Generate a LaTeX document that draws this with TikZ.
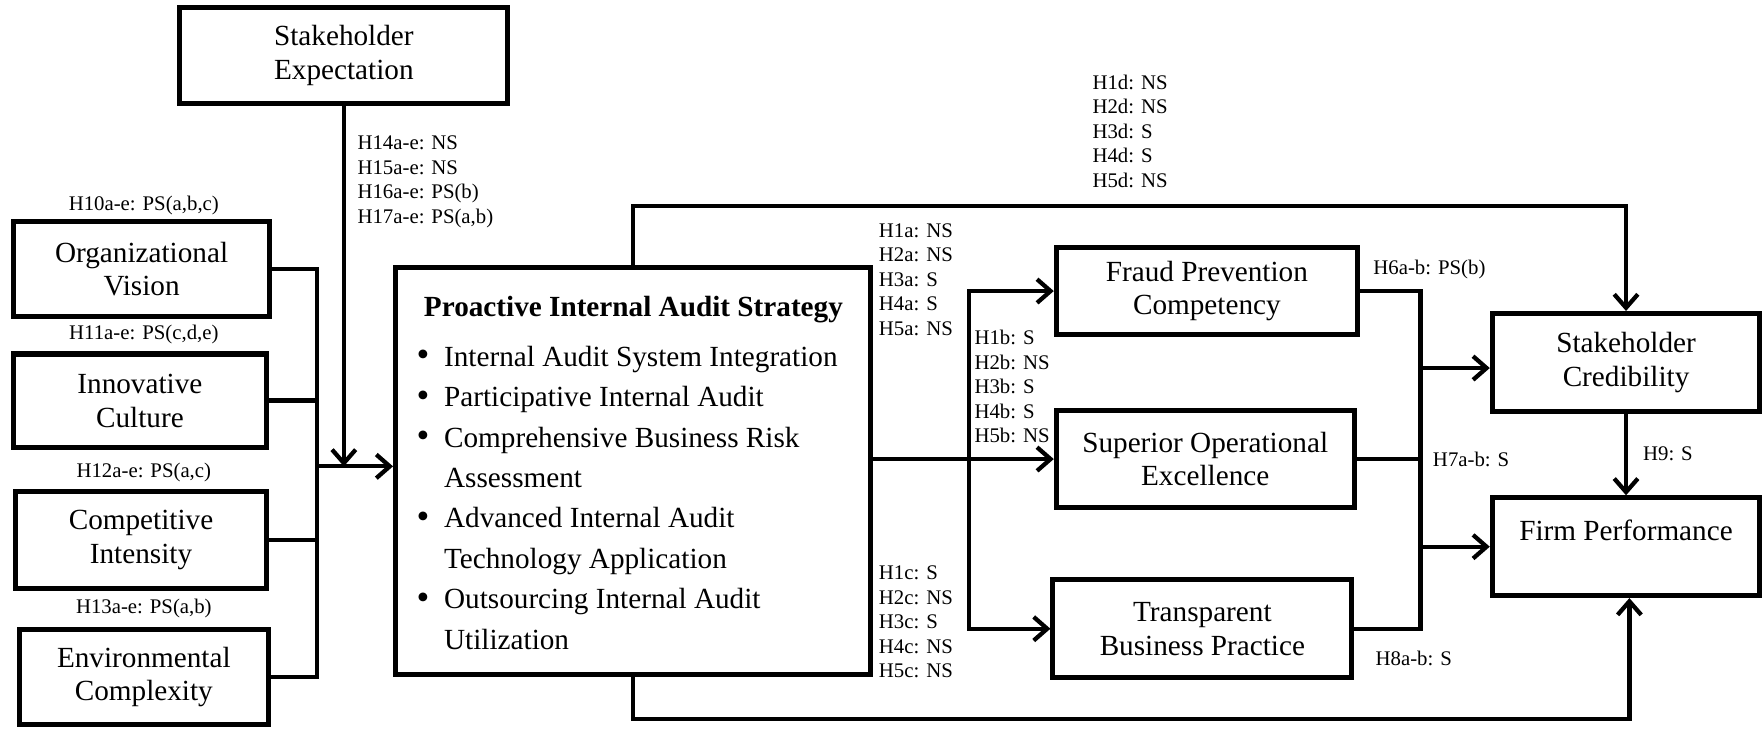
\documentclass[tikz,border=0pt]{standalone}
\usepackage{fontspec}
\setmainfont{Liberation Serif}
\usetikzlibrary{arrows.meta,calc}
\newcommand\stratitem{\makebox[24.5pt][l]{\raisebox{-0.5pt}{\scalebox{1.25}{\textbullet}}}}
\begin{document}
\begin{tikzpicture}[x=1pt,y=-1pt,
  box/.style={draw,line width=4.5pt,inner sep=0pt,align=center,
    font=\fontsize{26}{30}\selectfont},
  lab/.style={inner sep=0pt,align=left,font=\fontsize{18.5}{21.8}\selectfont},
  conn/.style={line width=3.8pt,line join=miter},
  arr/.style={conn,-{Straight Barb[length=12pt,width=21pt]}},
  dblarr/.style={conn,{Straight Barb[length=12pt,width=21pt]}-{Straight Barb[length=12pt,width=21pt]}}
]
\useasboundingbox (0,0) rectangle (1568,651);

% antecedents
\node[box,minimum width=292pt,minimum height=85pt] (se) at (306,49.5) {Stakeholder\\Expectation};
\node[box,minimum width=228pt,minimum height=85pt] (ov) at (126,239.5) {Organizational\\Vision};
\node[box,minimum width=225pt,minimum height=83pt] (ic) at (124.5,356.5) {Innovative\\Culture};
\node[box,minimum width=223pt,minimum height=87pt] (ci) at (125.5,480.5) {Competitive\\Intensity};
\node[box,minimum width=222pt,minimum height=85pt] (ec) at (128,602.5) {Environmental\\Complexity};

% central strategy box
\node[box,minimum width=423pt,minimum height=362pt] (pias) at (563.5,419) {};
\node[lab,anchor=north west,font=\fontsize{26}{36}\selectfont] (piastext) at (370.5,263.6)
  {\makebox[386pt][c]{\bfseries Proactive Internal Audit Strategy}\\[8pt]
   \stratitem Internal Audit System Integration\\
   \stratitem Participative Internal Audit\\
   \stratitem Comprehensive Business Risk\\
   \hspace*{24.5pt}Assessment\\
   \stratitem Advanced Internal Audit\\
   \hspace*{24.5pt}Technology Application\\
   \stratitem Outsourcing Internal Audit\\
   \hspace*{24.5pt}Utilization};

% outcomes
\node[box,minimum width=268pt,minimum height=78pt] (fpc) at (1074,259) {Fraud Prevention\\Competency};
\node[box,minimum width=265pt,minimum height=87pt] (soe) at (1072.5,408.5) {Superior Operational\\Excellence};
\node[box,minimum width=266pt,minimum height=87pt] (tbp) at (1070,559.5) {Transparent\\Business Practice};
\node[box,minimum width=238pt,minimum height=87pt] (sc) at (1447,322.5) {Stakeholder\\Credibility};
\node[box,minimum width=238pt,minimum height=87pt] (fp) at (1447,486.5) {Firm Performance\\\mbox{}};

% routing points
\coordinate (lbus) at (282,415);
\coordinate (mbus) at (862,408.5);
\coordinate (rbus) at (1264,408.5);
\coordinate (topy) at (0,183);
\coordinate (boty) at (0,640);
\coordinate (scin) at ($(sc.west)+(0,5)$);
\coordinate (fpin) at ($(fp.south)+(3,0)$);

% antecedents into the strategy
\draw[conn] (ov.east) -| (lbus |- ec.east) -- (ec.east);
\draw[conn] (ic.east) -- (ic.east -| lbus);
\draw[conn] (ci.east) -- (ci.east -| lbus);
\draw[arr] (lbus) -- (lbus -| pias.west);
\draw[arr] (se.south) -- (se.south |- lbus);

% strategy to outcomes
\draw[arr] (soe.west -| pias.east) -- (soe.west);
\draw[dblarr] (fpc.west) -| (tbp.west -| mbus) -- (tbp.west);
\draw[arr] (pias.north) |- (sc.north |- topy) -- (sc.north);
\draw[arr] (pias.south) |- (fpin |- boty) -- (fpin);

% outcomes to performance
\draw[conn] (fpc.east) -| (tbp.east -| rbus) -- (tbp.east);
\draw[conn] (soe.east) -- (soe.east -| rbus);
\draw[arr] (scin -| rbus) -- (scin);
\draw[arr] (fp.west -| rbus) -- (fp.west);
\draw[arr] (sc.south) -- (fp.north);

% path results
\node[lab,anchor=north west] (h14) at (318,120.6) {H14a-e: NS\\H15a-e: NS\\H16a-e: PS(b)\\H17a-e: PS(a,b)};
\node[lab,anchor=base] (h10) at (128,187) {H10a-e: PS(a,b,c)};
\node[lab,anchor=base] (h11) at (128,302) {H11a-e: PS(c,d,e)};
\node[lab,anchor=base] (h12) at (128,425) {H12a-e: PS(a,c)};
\node[lab,anchor=base] (h13) at (128,546) {H13a-e: PS(a,b)};
\node[lab,anchor=north west] (hd) at (972,66.3) {H1d: NS\\H2d: NS\\H3d: S\\H4d: S\\H5d: NS};
\node[lab,anchor=north west] (ha) at (782,198.6) {H1a: NS\\H2a: NS\\H3a: S\\H4a: S\\H5a: NS};
\node[lab,anchor=north west] (hb) at (867,293.6) {H1b: S\\H2b: NS\\H3b: S\\H4b: S\\H5b: NS};
\node[lab,anchor=north west] (hc) at (782,503.6) {H1c: S\\H2c: NS\\H3c: S\\H4c: NS\\H5c: NS};
\node[lab,anchor=base west] (h6) at (1222,244.5) {H6a-b: PS(b)};
\node[lab,anchor=base west] (h7) at (1275,415.5) {H7a-b: S};
\node[lab,anchor=base west] (h8) at (1224,592) {H8a-b: S};
\node[lab,anchor=base west] (h9) at (1462,410) {H9: S};
\end{tikzpicture}
\end{document}
